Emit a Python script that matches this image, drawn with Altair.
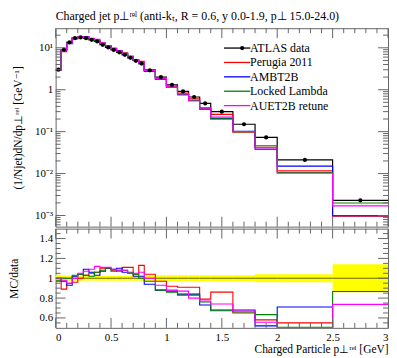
import altair as alt
import pandas as pd

# ---- data ----
edges = [0.0, 0.05, 0.1, 0.15, 0.2, 0.25, 0.3, 0.35, 0.4, 0.45, 0.5, 0.55, 0.6, 0.65,
         0.7, 0.75, 0.8, 0.9, 1.0, 1.1, 1.2, 1.3, 1.4, 1.6, 1.8, 2.0, 2.5, 3.0]
data_vals = [3.0, 9.1, 13.5, 17.0, 17.7, 17.0, 15.5, 14.2, 11.8, 10.2, 8.9, 7.8, 6.8,
             5.75, 4.9, 4.2, 2.9, 2.0, 1.31, 0.91, 0.67, 0.47, 0.30, 0.15, 0.073,
             0.0212, 0.0023]
data_err = [0.035, 0.03, 0.025, 0.025, 0.025, 0.025, 0.025, 0.025, 0.025, 0.025, 0.025,
            0.025, 0.025, 0.025, 0.025, 0.025, 0.03, 0.03, 0.03, 0.03, 0.03, 0.03,
            0.03, 0.03, 0.04, 0.04, 0.14]
ratio_perugia = [0.97, 0.89, 0.95, 0.96, 1.00, 1.03, 1.05, 1.06, 1.10, 1.10, 1.08, 1.07,
                 1.11, 1.11, 1.04, 1.13, 1.04, 0.97, 0.92, 0.91, 0.91, 0.79, 0.86, 0.65,
                 0.58, 0.55, 0.42]
ratio_ambt2b = [1.0, 0.97, 0.93, 1.02, 1.04, 1.09, 1.06, 1.03, 1.07, 1.10, 1.09, 1.10,
                1.06, 1.05, 1.02, 1.02, 0.94, 0.88, 0.87, 0.84, 0.84, 0.73, 0.68, 0.68,
                0.52, 0.71, 0.43]
ratio_locked = [0.98, 1.0, 1.0, 1.03, 1.04, 1.03, 1.02, 1.06, 1.08, 1.10, 1.07, 1.08,
                1.08, 1.06, 1.04, 1.0, 0.97, 0.88, 0.86, 0.83, 0.83, 0.76, 0.673, 0.66,
                0.633, 0.505, 0.867]
ratio_auet2b = [1.0, 0.98, 0.95, 1.0, 1.05, 1.07, 1.09, 1.12, 1.11, 1.11, 1.09, 1.08,
                1.08, 1.05, 1.05, 1.06, 1.0, 0.93, 0.88, 0.87, 0.80, 0.77, 0.74, 0.67,
                0.557, 0.48, 0.737]
series_names = ["ATLAS data", "Perugia 2011", "AMBT2B", "Locked Lambda", "AUET2B retune"]
series_colors = ["#000000", "#ff0000", "#0000ff", "#008000", "#ff00ff"]
x_major = [0, 0.5, 1, 1.5, 2, 2.5, 3]
x_minor = [0.1, 0.2, 0.3, 0.4, 0.6, 0.7, 0.8, 0.9, 1.1, 1.2, 1.3, 1.4, 1.6, 1.7, 1.8,
           1.9, 2.1, 2.2, 2.3, 2.4, 2.6, 2.7, 2.8, 2.9]
y_major = [0.001, 0.01, 0.1, 1, 10]
r_major = [0.6, 0.8, 1.0, 1.2, 1.4]
r_minor = [0.55, 0.65, 0.7, 0.75, 0.85, 0.9, 0.95, 1.05, 1.1, 1.15, 1.25, 1.3, 1.35, 1.45]

FONT = "Liberation Serif"
W, H1, H2 = 335, 200, 100
FRAME = "#666666"
nb = len(data_vals)

xs = alt.Scale(domain=[0, 3], nice=False, zero=False)
ys = alt.Scale(type="log", domain=[5.42e-4, 29.3], nice=False)
rs = alt.Scale(domain=[0.5, 1.5], nice=False, zero=False)
cs = alt.Scale(domain=series_names, range=series_colors)

mc = [("Perugia 2011", ratio_perugia), ("AMBT2B", ratio_ambt2b),
      ("Locked Lambda", ratio_locked), ("AUET2B retune", ratio_auet2b)]

rows_mc, rows_data = [], []
for name, rat in mc:
    for i, e in enumerate(edges):
        j = min(i, nb - 1)
        rows_mc.append(dict(series=name, x=e, y=rat[j] * data_vals[j], r=rat[j], o=i))
for i, e in enumerate(edges):
    j = min(i, nb - 1)
    rows_data.append(dict(series="ATLAS data", x=e, y=data_vals[j], r=1.0, o=i))
df_mc = pd.DataFrame(rows_mc)
df_data = pd.DataFrame(rows_data)
df_pts = pd.DataFrame(dict(x=[(edges[i] + edges[i + 1]) / 2 for i in range(nb)],
                           y=data_vals, dot=[" "] * nb))
df_band = pd.DataFrame(dict(x=edges[:-1], x2=edges[1:],
                            lo=[1 - e for e in data_err], hi=[1 + e for e in data_err]))

minor_y = [k * 10.0 ** n for n in range(-4, 2) for k in range(2, 10)
           if 5.42e-4 <= k * 10.0 ** n <= 29.3]

ylab = ("datum.value >= 9 ? '10¹' : datum.value >= 0.9 ? '1' : datum.value >= 0.09 ? "
        "'10⁻¹' : datum.value >= 0.009 ? '10⁻²' : '10⁻³'")

AX_MAIN_X = alt.Axis(labels=False, title=None, ticks=False, domain=False, maxExtent=0, minExtent=0)
AX_MAIN_Y = alt.Axis(values=y_major, labelExpr=ylab, title="(1/Njet)dN/dp⊥ʳᵉˡ [GeV⁻¹]",
                     titleX=-32, minExtent=41, maxExtent=41, labelPadding=3)
AX_R_X = alt.Axis(values=x_major, format="~g", title="Charged Particle p⊥ʳᵉˡ [GeV]",
                  titleAnchor="end", labelPadding=4, titlePadding=1)
AX_R_Y = alt.Axis(values=r_major, format=".1~f", title="MC/data", titleX=-36,
                  minExtent=41, maxExtent=41, labelPadding=3)

leg_lines = alt.Legend(title=None, orient="none", legendX=177, legendY=14,
                       symbolType="M-3,0H3", symbolSize=78, symbolStrokeWidth=1.3,
                       labelFont=FONT, labelFontSize=12, labelOffset=7, rowPadding=2.5,
                       padding=0)


def tick_layers(h, yscale, ymaj, ymin, axx, axy):
    out = []
    for vals, L in ((x_major, 10), (x_minor, 5)):
        d = pd.DataFrame(dict(x=vals))
        base = alt.Chart(d).mark_rule(color=FRAME, strokeWidth=1)
        out.append(base.encode(x=alt.X("x:Q", scale=xs, axis=axx),
                               y=alt.value(0), y2=alt.value(L)))
        out.append(base.encode(x=alt.X("x:Q", scale=xs, axis=axx),
                               y=alt.value(h), y2=alt.value(h - L)))
    for vals, L in ((ymaj, 10), (ymin, 5)):
        d = pd.DataFrame(dict(y=vals))
        base = alt.Chart(d).mark_rule(color=FRAME, strokeWidth=1)
        out.append(base.encode(y=alt.Y("y:Q", scale=yscale, axis=axy),
                               x=alt.value(0), x2=alt.value(L)))
        out.append(base.encode(y=alt.Y("y:Q", scale=yscale, axis=axy),
                               x=alt.value(W), x2=alt.value(W - L)))
    return out


main_data = alt.Chart(df_data).mark_line(interpolate="step-after", strokeWidth=1.2, clip=True).encode(
    x=alt.X("x:Q", scale=xs, axis=AX_MAIN_X),
    y=alt.Y("y:Q", scale=ys, axis=AX_MAIN_Y),
    color=alt.Color("series:N", scale=cs, legend=leg_lines),
    order="o:Q",
)
main_lines = alt.Chart(df_mc).mark_line(interpolate="step-after", strokeWidth=1.1, clip=True).encode(
    x=alt.X("x:Q", scale=xs, axis=AX_MAIN_X),
    y=alt.Y("y:Q", scale=ys, axis=AX_MAIN_Y),
    color=alt.Color("series:N", scale=cs, legend=leg_lines),
    order="o:Q",
)
main_pts = alt.Chart(df_pts).mark_point(filled=True, size=18, color="black", opacity=1).encode(
    x=alt.X("x:Q", scale=xs, axis=AX_MAIN_X),
    y=alt.Y("y:Q", scale=ys, axis=AX_MAIN_Y),
    shape=alt.Shape("dot:N", scale=alt.Scale(range=["circle"]),
                    legend=alt.Legend(title=None, orient="none", legendX=182, legendY=14,
                                      symbolSize=18, symbolFillColor="black",
                                      symbolStrokeColor="black", labelFontSize=12,
                                      labelFont=FONT, padding=0)),
)

main = alt.layer(main_data, main_lines, main_pts,
                 *tick_layers(H1, ys, y_major, minor_y, AX_MAIN_X, AX_MAIN_Y)).properties(
    width=W, height=H1,
    title=alt.TitleParams("Charged jet p⊥ʳᵉˡ (anti-kₜ, R = 0.6, y 0.0-1.9, p⊥ 15.0-24.0)",
                          anchor="start", frame="group", font=FONT, fontSize=12,
                          fontWeight="normal", offset=5),
)

band = alt.Chart(df_band).mark_rect(color="#ffff00", opacity=1).encode(
    x=alt.X("x:Q", scale=xs, axis=AX_R_X),
    x2="x2:Q",
    y=alt.Y("lo:Q", scale=rs, axis=AX_R_Y),
    y2="hi:Q",
)
ratio_data = alt.Chart(df_data).mark_line(interpolate="step-after", strokeWidth=1, opacity=0.6,
                                          color="black", clip=True).encode(
    x=alt.X("x:Q", scale=xs, axis=AX_R_X), y=alt.Y("r:Q", scale=rs, axis=AX_R_Y), order="o:Q")
ratio_lines = alt.Chart(df_mc).mark_line(interpolate="step-after", strokeWidth=1.1, clip=True).encode(
    x=alt.X("x:Q", scale=xs, axis=AX_R_X),
    y=alt.Y("r:Q", scale=rs, axis=AX_R_Y),
    color=alt.Color("series:N", scale=cs, legend=None),
    order="o:Q",
)
ratio = alt.layer(band, ratio_data, ratio_lines,
                  *tick_layers(H2, rs, r_major, r_minor, AX_R_X, AX_R_Y)).properties(
    width=W, height=H2)

chart = alt.vconcat(main, ratio, spacing=0).resolve_scale(
    color="independent", shape="independent").resolve_legend(
    color="independent", shape="independent").properties(padding=0).configure(
    font=FONT).configure_view(stroke=FRAME, strokeWidth=1).configure_axis(
    labelFont=FONT, labelFontSize=11, titleFont=FONT, titleFontSize=11.5,
    titleFontWeight="normal", labelColor="black", titleColor="black", grid=False,
    domain=False, ticks=False)

chart.save("out.html", embed_options={"renderer": "svg", "actions": False})
